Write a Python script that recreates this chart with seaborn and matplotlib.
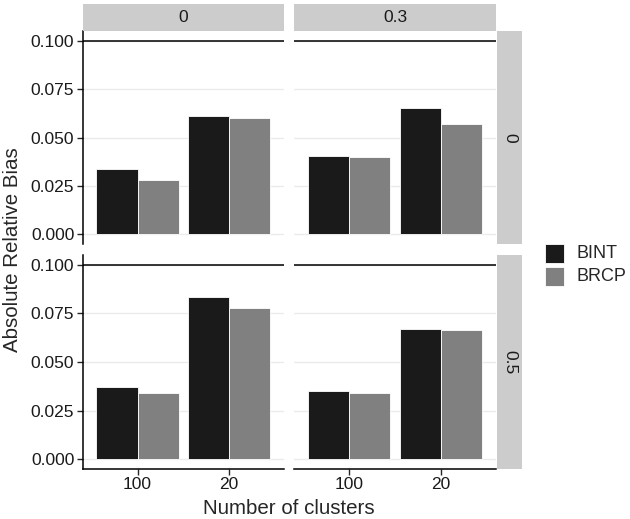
import numpy as np
import pandas as pd
import matplotlib
matplotlib.use("Agg")
import matplotlib.pyplot as plt
import seaborn as sns

# facet levels
col_levels = ["0", "0.3"]
row_levels = ["0", "0.5"]
clusters = ["100", "20"]
methods = ["BINT", "BRCP"]

# bias values per panel (row, col), ordered by cluster then method
bias_r0_c0 = [0.0337, 0.0281, 0.0611, 0.0601]
bias_r0_c1 = [0.0404, 0.0401, 0.0654, 0.0570]
bias_r1_c0 = [0.0371, 0.0341, 0.0835, 0.0779]
bias_r1_c1 = [0.0350, 0.0341, 0.0671, 0.0662]

panels = {("0", "0"): bias_r0_c0, ("0", "0.3"): bias_r0_c1,
          ("0.5", "0"): bias_r1_c0, ("0.5", "0.3"): bias_r1_c1}

rows = []
for (r, c), vals in panels.items():
    i = 0
    for cl in clusters:
        for m in methods:
            rows.append({"row": r, "col": c, "clusters": cl, "method": m, "bias": vals[i]})
            i += 1
df = pd.DataFrame(rows)

sns.set_style("white")
plt.rcParams['font.family'] = ['Liberation Sans', 'DejaVu Sans']

palette = {"BINT": "#1a1a1a", "BRCP": "#808080"}
strip_col = "#cccccc"

fig = plt.figure(figsize=(6.3, 5.19), dpi=100)
W, H = 630, 519

def fx(x):
    return x / W

def fy(y):
    return 1 - y / H

col_x = [(82.7, 284.0), (294.0, 496.0)]
row_y = [(31.0, 244.0), (255.0, 469.0)]

for ri, r in enumerate(row_levels):
    for ci, c in enumerate(col_levels):
        x0, x1 = col_x[ci]
        y0, y1 = row_y[ri]
        ax = fig.add_axes([fx(x0), fy(y1), fx(x1 - x0), (y1 - y0) / H])
        sub = df[(df["row"] == r) & (df["col"] == c)]
        sns.barplot(data=sub, x="clusters", y="bias", hue="method", order=clusters,
                    hue_order=methods, palette=palette, width=0.9, edgecolor="white",
                    linewidth=0.6, ax=ax, legend=False, saturation=1)
        ax.set_xlim(-0.6, 1.6)
        ax.set_ylim(-0.005, 0.105)
        ax.set_yticks([0, 0.025, 0.05, 0.075, 0.1])
        ax.yaxis.grid(True, color="#ebebeb", linewidth=1.0)
        ax.set_axisbelow(True)
        ax.axhline(0.1, color="black", linewidth=1.1, zorder=3)
        for s in ax.spines.values():
            s.set_visible(False)
        ax.set_xlabel("")
        ax.set_ylabel("")
        if ci == 0:
            ax.spines["left"].set_visible(True)
            ax.spines["left"].set_linewidth(1.1)
            ax.spines["left"].set_color("black")
            ax.set_yticklabels(["0.000", "0.025", "0.050", "0.075", "0.100"])
            ax.tick_params(axis="y", left=True, length=4, width=1, labelsize=12.5,
                           labelcolor="#1a1a1a", pad=2)
        else:
            ax.tick_params(axis="y", left=False, labelleft=False)
        if ri == 1:
            ax.spines["bottom"].set_visible(True)
            ax.spines["bottom"].set_linewidth(1.1)
            ax.spines["bottom"].set_color("black")
            ax.tick_params(axis="x", bottom=True, length=4, width=1, labelsize=12.5,
                           labelcolor="#1a1a1a", pad=2)
        else:
            ax.tick_params(axis="x", bottom=False, labelbottom=False)

# column strips
for ci, c in enumerate(col_levels):
    x0, x1 = col_x[ci]
    sax = fig.add_axes([fx(x0), fy(30.7), fx(x1 - x0), 26.7 / H])
    sax.set_facecolor(strip_col)
    sax.set_xticks([])
    sax.set_yticks([])
    for s in sax.spines.values():
        s.set_visible(False)
    sax.text(0.5, 0.5, c, ha="center", va="center", fontsize=12.5, color="#1a1a1a",
             transform=sax.transAxes)

# row strips
for ri, r in enumerate(row_levels):
    y0, y1 = row_y[ri]
    sax = fig.add_axes([fx(497), fy(y1), fx(25), (y1 - y0) / H])
    sax.set_facecolor(strip_col)
    sax.set_xticks([])
    sax.set_yticks([])
    for s in sax.spines.values():
        s.set_visible(False)
    sax.text(0.5, 0.5, r, ha="center", va="center", fontsize=12.5, color="#1a1a1a",
             rotation=-90, transform=sax.transAxes)

# axis titles
fig.text(fx(13), fy(250), "Absolute Relative Bias", rotation=90, ha="center",
         va="center", fontsize=14.8)
fig.text(fx(289), fy(508), "Number of clusters", ha="center", va="center", fontsize=14.8)

# legend
for i, m in enumerate(methods):
    top = 244 + i * 23
    fig.patches.append(plt.Rectangle((fx(545), fy(top + 19)), fx(19), 19 / H,
                                     transform=fig.transFigure, facecolor=palette[m],
                                     edgecolor="white", linewidth=0.6))
    fig.text(fx(577), fy(top + 9.5), m, ha="left", va="center", fontsize=13)

fig.savefig("out.png", dpi=100)
